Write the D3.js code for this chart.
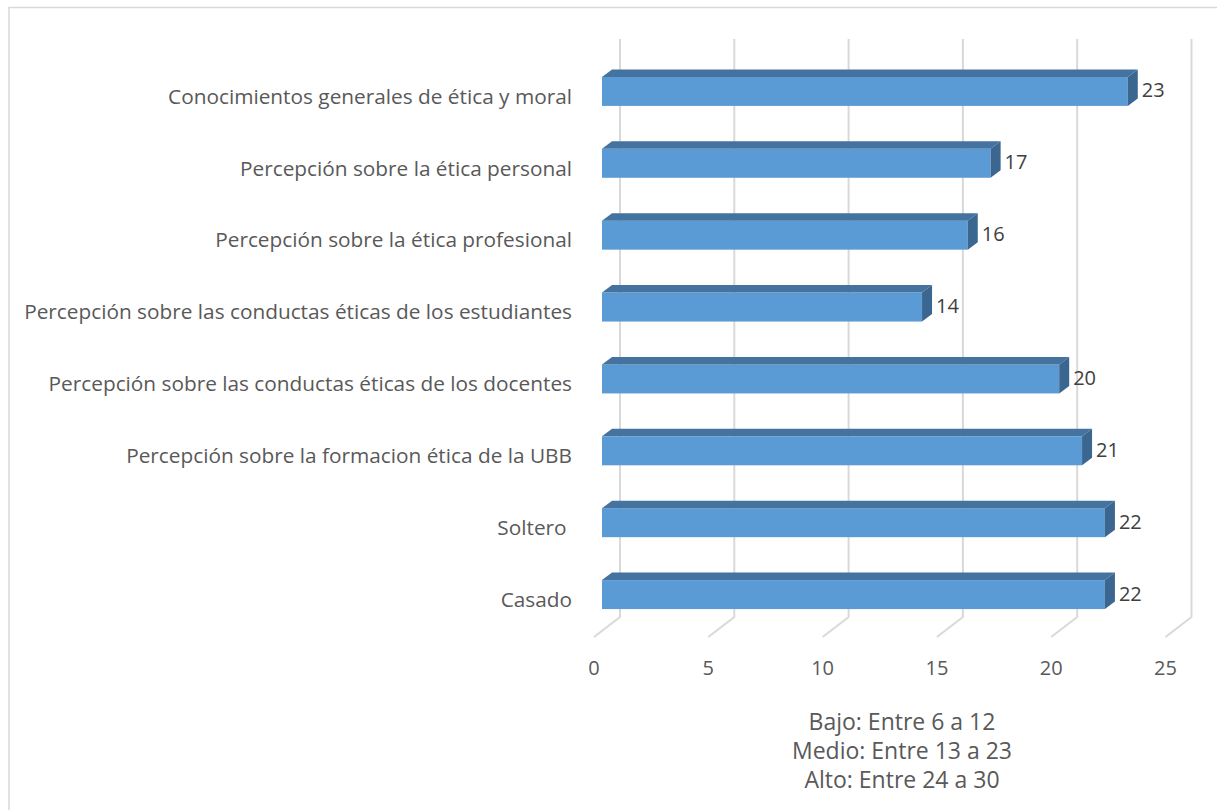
<!DOCTYPE html>
<html>
<head>
<meta charset="utf-8">
<script src="https://cdn.jsdelivr.net/npm/d3@7"></script>
<style>
  body { margin: 0; background: #fff; }
  svg { display: block; }
</style>
</head>
<body>
<div id="chart"></div>
<script>
// data
const categories = [
    "Conocimientos generales de ética y moral",
    "Percepción sobre la ética personal",
    "Percepción sobre la ética profesional",
    "Percepción sobre las conductas éticas de los estudiantes",
    "Percepción sobre las conductas éticas de los docentes",
    "Percepción sobre la formacion ética de la UBB",
    "Soltero ",
    "Casado"
];
const values = [23, 17, 16, 14, 20, 21, 22, 22];
const xTicks = [0, 5, 10, 15, 20, 25];
const notes = ["Bajo: Entre 6 a 12", "Medio: Entre 13 a 23", "Alto: Entre 24 a 30"];

const W = 1217, H = 810;
const font = "'Open Sans', sans-serif";
const textColor = "#595959";

// 3d geometry: front floor edge, back wall, bar plane in between
const x0 = 594, floorY = 637;
const depth = {dx: 26, dy: -20};
const barOff = {dx: 8, dy: -6};
const barDepth = {dx: 10, dy: -7.5};

const svg = d3.select("#chart").append("svg")
    .attr("width", W)
    .attr("height", H);

// chart border (only left and top visible)
svg.append("path")
    .attr("d", `M9,${H + 5} L9,7.5 L${W + 5},7.5`)
    .attr("fill", "none")
    .attr("stroke", "#d9d9d9")
    .attr("stroke-width", 1.5);

const x = d3.scaleLinear()
    .domain([0, 25])
    .range([0, 571.5]);

const y = d3.scaleBand()
    .domain(categories)
    .range([41, 645])
    .paddingInner(0.597)
    .paddingOuter(0.5);

// gridlines on back wall + floor
const grid = svg.append("g")
    .attr("stroke", "#d9d9d9")
    .attr("stroke-width", 2)
    .attr("fill", "none");

grid.selectAll("path")
    .data(xTicks)
    .join("path")
    .attr("d", d => {
        const bx = x0 + x(d) + depth.dx;
        const by = floorY + depth.dy;
        return `M${bx},39 L${bx},${by} L${x0 + x(d)},${floorY}`;
    });

svg.append("g")
    .selectAll("text")
    .data(xTicks)
    .join("text")
    .attr("x", d => x0 + x(d))
    .attr("y", 668)
    .attr("dy", "0.35em")
    .attr("text-anchor", "middle")
    .attr("font-family", font)
    .attr("font-size", 20)
    .attr("fill", textColor)
    .text(d => d);

// bars
const bars = svg.append("g")
    .selectAll("g")
    .data(categories.map((c, i) => ({cat: c, value: values[i]})))
    .join("g");

const fx = x0 + barOff.dx;

bars.append("rect")
    .attr("x", fx)
    .attr("y", d => y(d.cat))
    .attr("width", d => x(d.value))
    .attr("height", y.bandwidth())
    .attr("fill", "#5b9bd5");

bars.append("path")
    .attr("fill", "#4573a0")
    .attr("d", d => {
        const top = y(d.cat), w = x(d.value);
        return `M${fx},${top} L${fx + barDepth.dx},${top + barDepth.dy} L${fx + barDepth.dx + w},${top + barDepth.dy} L${fx + w},${top} Z`;
    });

bars.append("path")
    .attr("fill", "#3a6690")
    .attr("d", d => {
        const top = y(d.cat), w = x(d.value), bh = y.bandwidth();
        const ex = fx + w;
        return `M${ex},${top} L${ex + barDepth.dx},${top + barDepth.dy} L${ex + barDepth.dx},${top + bh + barDepth.dy} L${ex},${top + bh} Z`;
    });

// value labels
bars.append("text")
    .attr("x", d => fx + x(d.value) + barDepth.dx + 4)
    .attr("y", d => y(d.cat) + y.bandwidth() / 2 - 1)
    .attr("dy", "0.35em")
    .attr("font-family", font)
    .attr("font-size", 20)
    .attr("fill", "#404040")
    .text(d => d.value);

// category labels
svg.append("g")
    .selectAll("text")
    .data(categories)
    .join("text")
    .attr("x", 572)
    .attr("y", d => y(d) + y.bandwidth() / 2 + 5)
    .attr("dy", "0.35em")
    .attr("text-anchor", "end")
    .attr("font-family", font)
    .attr("font-size", 20.8)
    .attr("fill", textColor)
    .style("white-space", "pre")
    .text(d => d);

// note under the axis
svg.append("g")
    .selectAll("text")
    .data(notes)
    .join("text")
    .attr("x", 902)
    .attr("y", (d, i) => 722 + i * 29)
    .attr("dy", "0.35em")
    .attr("text-anchor", "middle")
    .attr("font-family", font)
    .attr("font-size", 23)
    .attr("fill", textColor)
    .text(d => d);
</script>
</body>
</html>
